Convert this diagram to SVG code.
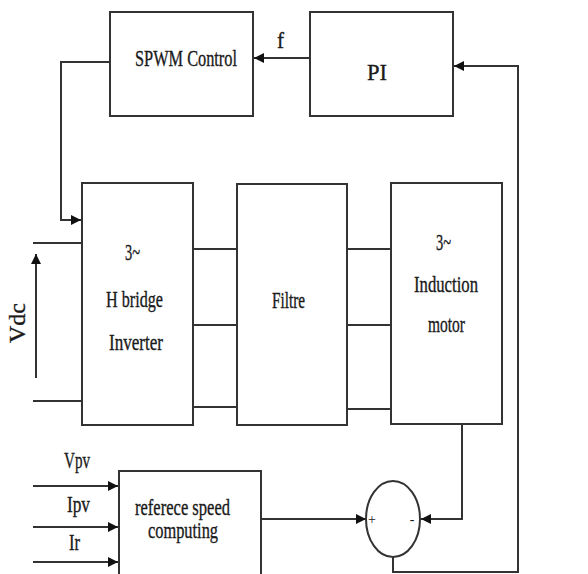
<svg xmlns="http://www.w3.org/2000/svg" width="588" height="574" viewBox="0 0 588 574">
<style>
.box{fill:#fff;stroke:#333;stroke-width:2}
.ln{fill:none;stroke:#333;stroke-width:2}
.t{font-family:"Liberation Serif","Times New Roman",serif;font-size:23px;fill:#1a1a1a;stroke:#1a1a1a;stroke-width:0.35}
</style>
<defs>
<marker id="ah" viewBox="0 0 10 10" refX="10" refY="5" markerWidth="11" markerHeight="10" markerUnits="userSpaceOnUse" orient="auto">
<path d="M0,0 L10,5 L0,10 z" fill="#111"/>
</marker>
</defs>
<rect width="588" height="574" fill="#fff"/>
<g id="connectors">
<path class="ln" d="M310,58 L254,58" marker-end="url(#ah)"/>
<path class="ln" d="M110,62 L61,62 L61,220 L81,220" marker-end="url(#ah)"/>
<path class="ln" d="M393,557 L393,572 L518,572 L518,66 L454,66" marker-end="url(#ah)"/>
<path class="ln" d="M193,249 L237,249 M193,325 L237,325 M193,407 L237,407"/>
<path class="ln" d="M347,249 L391,249 M347,325 L391,325 M347,409 L391,409"/>
<path class="ln" d="M33,243 L82,243 M33,401 L82,401"/>
<path class="ln" d="M36,378 L36,254" marker-end="url(#ah)"/>
<path class="ln" d="M33,486 L118,486" marker-end="url(#ah)"/>
<path class="ln" d="M33,527 L118,527" marker-end="url(#ah)"/>
<path class="ln" d="M33,562 L118,562" marker-end="url(#ah)"/>
<path class="ln" d="M261,519 L366,519" marker-end="url(#ah)"/>
<path class="ln" d="M462,424 L462,519 L421,519" marker-end="url(#ah)"/>
<text class="t" x="277" y="48" textLength="7" lengthAdjust="spacingAndGlyphs">f</text>
<text class="t" transform="translate(25,343) rotate(-90)" textLength="40" lengthAdjust="spacingAndGlyphs">Vdc</text>
<text class="t" x="64" y="468" textLength="26" lengthAdjust="spacingAndGlyphs">Vpv</text>
<text class="t" x="67" y="512" textLength="23" lengthAdjust="spacingAndGlyphs">Ipv</text>
<text class="t" x="69" y="550" textLength="11" lengthAdjust="spacingAndGlyphs">Ir</text>
</g>
<g id="spwm">
<rect class="box" x="110" y="12" width="143" height="104"/>
<text class="t" x="135" y="66" textLength="102" lengthAdjust="spacingAndGlyphs">SPWM Control</text>
</g>
<g id="pi">
<rect class="box" x="310" y="12" width="143" height="104"/>
<text class="t" x="367" y="80" textLength="20" lengthAdjust="spacingAndGlyphs">PI</text>
</g>
<g id="hbridge">
<rect class="box" x="82" y="183" width="111" height="242"/>
<text class="t" x="125" y="260" textLength="15" lengthAdjust="spacingAndGlyphs">3~</text>
<text class="t" x="106" y="307" textLength="57" lengthAdjust="spacingAndGlyphs">H bridge</text>
<text class="t" x="109" y="350" textLength="54" lengthAdjust="spacingAndGlyphs">Inverter</text>
</g>
<g id="filtre">
<rect class="box" x="237" y="184" width="110" height="241"/>
<text class="t" x="272" y="308" textLength="33" lengthAdjust="spacingAndGlyphs">Filtre</text>
</g>
<g id="motor">
<rect class="box" x="391" y="183" width="111" height="241"/>
<text class="t" x="436" y="250" textLength="15" lengthAdjust="spacingAndGlyphs">3~</text>
<text class="t" x="414" y="292" textLength="64" lengthAdjust="spacingAndGlyphs">Induction</text>
<text class="t" x="428" y="332" textLength="37" lengthAdjust="spacingAndGlyphs">motor</text>
</g>
<g id="refspeed">
<rect class="box" x="119" y="471" width="142" height="112"/>
<text class="t" x="135" y="515" textLength="95" lengthAdjust="spacingAndGlyphs">referece speed</text>
<text class="t" x="148" y="538" textLength="70" lengthAdjust="spacingAndGlyphs">computing</text>
</g>
<g id="sum">
<ellipse cx="393" cy="519" rx="27" ry="38" fill="#fff" stroke="#333" stroke-width="2"/>
<text class="t" x="372" y="524" text-anchor="middle" style="font-size:14px;stroke-width:0">+</text>
<text class="t" x="412" y="524" text-anchor="middle" style="font-size:14px;stroke-width:0">-</text>
</g>
</svg>
